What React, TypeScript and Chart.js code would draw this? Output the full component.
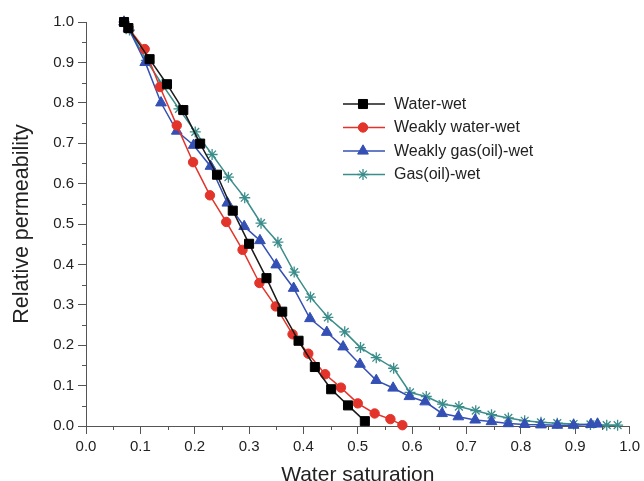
import React, { useEffect, useRef } from "react";
import { Chart, registerables } from "chart.js";
import { drawPoint } from "chart.js/helpers";

Chart.register(...registerables);

const seriesNames = ["Water-wet", "Weakly water-wet", "Weakly gas(oil)-wet", "Gas(oil)-wet"];

const waterWetX = [0.07, 0.078, 0.117, 0.149, 0.179, 0.21, 0.241, 0.27, 0.3, 0.332, 0.361, 0.391, 0.421, 0.451, 0.482, 0.513];
const waterWetY = [1.0, 0.985, 0.908, 0.846, 0.782, 0.699, 0.622, 0.533, 0.451, 0.366, 0.283, 0.211, 0.146, 0.091, 0.051, 0.012];

const weakWaterX = [0.07, 0.078, 0.108, 0.136, 0.167, 0.197, 0.228, 0.258, 0.288, 0.319, 0.349, 0.38, 0.409, 0.44, 0.469, 0.5, 0.531, 0.56, 0.582];
const weakWaterY = [1.0, 0.985, 0.933, 0.839, 0.744, 0.653, 0.571, 0.505, 0.436, 0.354, 0.296, 0.227, 0.179, 0.128, 0.095, 0.056, 0.031, 0.017, 0.002];

const weakGasX = [0.07, 0.078, 0.109, 0.138, 0.167, 0.198, 0.229, 0.26, 0.291, 0.32, 0.35, 0.382, 0.412, 0.443, 0.473, 0.504, 0.534, 0.565, 0.595, 0.624, 0.655, 0.685, 0.716, 0.746, 0.777, 0.807, 0.837, 0.867, 0.897, 0.929, 0.941];
const weakGasY = [1.0, 0.985, 0.9, 0.8, 0.73, 0.695, 0.643, 0.552, 0.494, 0.459, 0.399, 0.341, 0.266, 0.232, 0.196, 0.153, 0.113, 0.094, 0.073, 0.06, 0.031, 0.023, 0.015, 0.011, 0.006, 0.004, 0.003, 0.002, 0.002, 0.004, 0.005];

const gasWetX = [0.07, 0.08, 0.111, 0.14, 0.171, 0.201, 0.232, 0.262, 0.292, 0.322, 0.353, 0.383, 0.413, 0.445, 0.476, 0.505, 0.534, 0.566, 0.596, 0.626, 0.656, 0.686, 0.717, 0.746, 0.777, 0.807, 0.837, 0.867, 0.897, 0.928, 0.958, 0.978];
const gasWetY = [1.0, 0.98, 0.905, 0.846, 0.785, 0.728, 0.672, 0.616, 0.565, 0.502, 0.455, 0.381, 0.319, 0.269, 0.233, 0.194, 0.169, 0.143, 0.083, 0.073, 0.054, 0.048, 0.038, 0.028, 0.02, 0.013, 0.009, 0.007, 0.005, 0.004, 0.002, 0.002];

const minorTickValues = [0.05, 0.15, 0.25, 0.35, 0.45, 0.55, 0.65, 0.75, 0.85, 0.95];

const FONT = "'Liberation Sans', Arial, Helvetica, sans-serif";
const TEXT = "#222222";
const AXIS = "#555555";

const styles = [
  { line: "#1a1a1a", fill: "#000000", point: "rect", radius: 6.4, bw: 1 },
  { line: "#e2342a", fill: "#e2342a", point: "circle", radius: 4.7, bw: 1 },
  { line: "#3450b4", fill: "#3450b4", point: "triangle", radius: 6.2, bw: 1 },
  { line: "#3a8d8b", fill: "#3a8d8b", point: "star", radius: 5.5, bw: 1.3 },
];

const minorTicks = {
  id: "minorTicks",
  afterDraw(chart: any) {
    const { ctx, scales } = chart;
    const x = scales.x;
    const y = scales.y;
    ctx.save();
    ctx.strokeStyle = AXIS;
    ctx.lineWidth = 1;
    minorTickValues.forEach((v) => {
      const px = Math.round(x.getPixelForValue(v)) + 0.5;
      ctx.beginPath();
      ctx.moveTo(px, x.top);
      ctx.lineTo(px, x.top + 4);
      ctx.stroke();
      const py = Math.round(y.getPixelForValue(v)) + 0.5;
      ctx.beginPath();
      ctx.moveTo(y.right, py);
      ctx.lineTo(y.right - 4, py);
      ctx.stroke();
    });
    ctx.restore();
  },
};

const legendBox = {
  id: "legendBox",
  afterDraw(chart: any) {
    const { ctx } = chart;
    const x0 = 343;
    const x1 = 385;
    const xm = 363;
    const xt = 394;
    const y0 = 104;
    const dy = 23.5;
    ctx.save();
    seriesNames.forEach((name, i) => {
      const s = styles[i];
      const yy = y0 + i * dy;
      ctx.strokeStyle = s.line;
      ctx.lineWidth = 1.5;
      ctx.beginPath();
      ctx.moveTo(x0, yy);
      ctx.lineTo(x1, yy);
      ctx.stroke();
      ctx.fillStyle = s.fill;
      ctx.strokeStyle = s.fill;
      ctx.lineWidth = s.bw;
      drawPoint(ctx, { pointStyle: s.point, radius: s.radius, rotation: 0, borderWidth: s.bw } as any, xm, yy);
      ctx.fillStyle = TEXT;
      ctx.font = `16px ${FONT}`;
      ctx.textAlign = "left";
      ctx.textBaseline = "middle";
      ctx.fillText(name, xt, yy + 0.5);
    });
    ctx.restore();
  },
};

export default function App() {
  const ref = useRef<HTMLCanvasElement>(null);
  useEffect(() => {
    if (!ref.current) return;
    const xs = [waterWetX, weakWaterX, weakGasX, gasWetX];
    const ys = [waterWetY, weakWaterY, weakGasY, gasWetY];
    const datasets = seriesNames.map((name, i) => ({
      label: name,
      data: xs[i].map((x, j) => ({ x, y: ys[i][j] })),
      showLine: true,
      borderColor: styles[i].line,
      backgroundColor: styles[i].fill,
      borderWidth: 1.5,
      pointStyle: styles[i].point,
      pointRadius: styles[i].radius,
      pointBackgroundColor: styles[i].fill,
      pointBorderColor: styles[i].fill,
      pointBorderWidth: styles[i].bw,
      tension: 0,
      clip: false as any,
    }));
    const tickFont = { family: FONT, size: 15 };
    const chart = new Chart(ref.current, {
      type: "scatter",
      data: { datasets } as any,
      options: {
        animation: false,
        responsive: true,
        maintainAspectRatio: false,
        layout: { padding: { top: 22, right: 12, left: 0, bottom: 0 } },
        plugins: { legend: { display: false }, tooltip: { enabled: false } },
        scales: {
          x: {
            type: "linear",
            min: 0,
            max: 1,
            afterFit: (s: any) => {
              s.height = 62;
            },
            ticks: {
              stepSize: 0.1,
              callback: (v: any) => Number(v).toFixed(1),
              font: tickFont,
              color: TEXT,
              padding: 4,
              maxRotation: 0,
              autoSkip: false,
            },
            grid: { drawOnChartArea: false, tickLength: 8, color: AXIS },
            border: { color: AXIS, width: 1 },
            title: {
              display: true,
              text: "Water saturation",
              font: { family: FONT, size: 21 },
              color: TEXT,
              padding: { top: 0, bottom: 0 },
            },
          },
          y: {
            type: "linear",
            min: 0,
            max: 1,
            afterFit: (s: any) => {
              s.width = 86;
            },
            ticks: {
              stepSize: 0.1,
              callback: (v: any) => Number(v).toFixed(1),
              font: tickFont,
              color: TEXT,
              padding: 4,
              autoSkip: false,
            },
            grid: { drawOnChartArea: false, tickLength: 8, color: AXIS },
            border: { color: AXIS, width: 1 },
            title: {
              display: true,
              text: "Relative permeability",
              font: { family: FONT, size: 21.5 },
              color: TEXT,
              padding: { top: 9, bottom: 0 },
            },
          },
        },
      } as any,
      plugins: [minorTicks, legendBox],
    });
    return () => chart.destroy();
  }, []);
  return (
    <div style={{ position: "fixed", left: 0, top: 0, width: 644, height: 481, overflow: "hidden", background: "#fff" }}>
      <div style={{ position: "relative", width: 644, height: 488 }}>
        <canvas ref={ref} />
      </div>
    </div>
  );
}
